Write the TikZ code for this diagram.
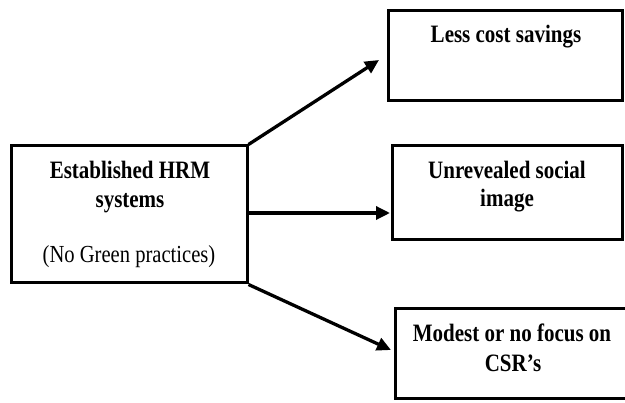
\documentclass[tikz,border=0pt]{standalone}
\usepackage{fontspec}
\setmainfont{Liberation Serif}
\newfontfamily\narrowserif[FakeStretch=0.84]{Liberation Serif}
\usetikzlibrary{arrows.meta,fit}
\begin{document}
\begin{tikzpicture}[x=1pt,y=-1pt,
  box/.style={draw=black, line width=3pt, inner sep=0pt, rectangle},
  txt/.style={anchor=base, inner sep=0pt, font=\narrowserif\fontsize{25}{29}\selectfont\bfseries},
  txtr/.style={anchor=base, inner sep=0pt, font=\narrowserif\fontsize{24.5}{29}\selectfont},
  arr/.style={line width=3.3pt, -{Triangle[length=14pt,width=13pt]}}]
\useasboundingbox (0,0) rectangle (625,403);
\clip (0,0) rectangle (625,403);
% box corners
\coordinate (la) at (11,146);  \coordinate (lb) at (247,283);
\coordinate (ta) at (388,11);  \coordinate (tb) at (622,101);
\coordinate (ma) at (392,146); \coordinate (mb) at (622,240);
\coordinate (ba) at (395,309); \coordinate (bb) at (632,399);
\node[box, fit=(la)(lb)] (L) {};
\node[box, fit=(ta)(tb)] (T) {};
\node[box, fit=(ma)(mb)] (M) {};
\node[box, fit=(ba)(bb)] (B) {};
% texts
\node[txt]  (l1) at (130,179) {Established HRM};
\node[txt]  (l2) at (130,208) {systems};
\node[txtr] (l3) at (129,263) {(No Green practices)};
\node[txt]  (t1) at (506,43) {Less cost savings};
\node[txt]  (m1) at (507,179) {Unrevealed social};
\node[txt]  (m2) at (507,207) {image};
\node[txt]  (b1) at (512,342) {Modest or no focus on};
\node[txt]  (b2) at (513,372) {CSR’s};
% arrows
\coordinate (tEnd) at (379,60);
\coordinate (mStart) at (L.east |- 0,213);
\coordinate (mEnd) at (390,213);
\coordinate (bEnd) at (391,350);
\draw[arr] (L.north east) -- (tEnd);
\draw[arr] (mStart) -- (mEnd);
\draw[arr] (L.south east) -- (bEnd);
\end{tikzpicture}
\end{document}
